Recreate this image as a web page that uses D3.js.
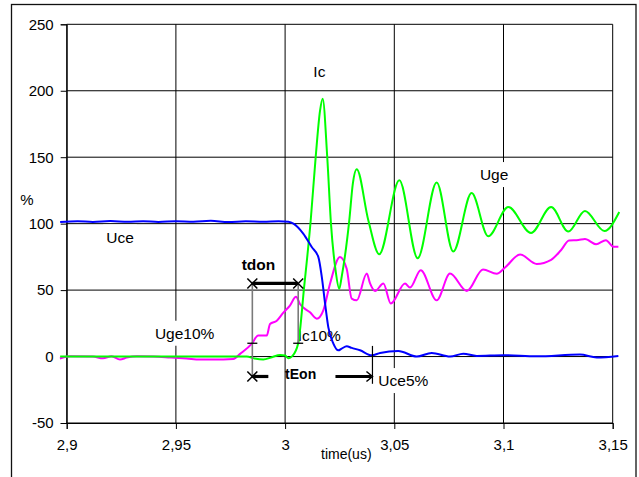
<!DOCTYPE html>
<html lang="en">
<head>
    <meta charset="UTF-8">
    <script src="https://d3js.org/d3.v7.min.js"></script>
    <title>turn-on</title>
    <style>
        body { margin: 0; background: #fff; }
        text { font-family: "Liberation Sans", Arial, sans-serif; }
    </style>
</head>
<body>
    <script>
        // axis ticks
        const xTicks = [2.9, 2.95, 3.0, 3.05, 3.1, 3.15];
        const yTicks = [-50, 0, 50, 100, 150, 200, 250];

        // Ic (green), time in us, value in %
        const icTime = [2.897, 2.940, 2.9824, 2.986, 2.990, 2.994, 2.9977, 3.0000, 3.0015, 3.0034,
            3.0060, 3.0087, 3.0117, 3.0140, 3.0160, 3.0172, 3.0193, 3.0210, 3.0231, 3.0248,
            3.0259, 3.0294, 3.0310, 3.0328, 3.0381, 3.0431, 3.0523, 3.0607, 3.0694, 3.0770,
            3.0854, 3.0930, 3.1022, 3.1126, 3.1218, 3.1297, 3.1373, 3.1462, 3.1530];
        const icVal = [0, 0, 0, -1.5, -2.3, -0.5, 1.2, 0.8, -1.2, 0.5,
            10, 52, 102, 150, 185, 194, 150, 100, 65, 51,
            60, 102.6, 130, 141, 102.6, 77, 132.6, 74, 131, 79,
            123, 90.5, 112.5, 93, 112.5, 94, 109.5, 94.5, 108.7];

        // Uce (blue)
        const uceTime = [2.897, 2.905, 2.912, 2.920, 2.928, 2.935, 2.942, 2.950, 2.958, 2.966,
            2.974, 2.982, 2.990, 2.997, 3.0015, 3.0038, 3.0083, 3.0122, 3.0152, 3.0168,
            3.0183, 3.0198, 3.0221, 3.0244, 3.0259, 3.0282, 3.0305, 3.0343, 3.0397, 3.0435,
            3.0518, 3.0603, 3.0671, 3.0755, 3.0816, 3.0877, 3.0999, 3.1152, 3.1350, 3.1427, 3.1526];
        const uceVal = [101.2, 101.8, 101.3, 102.0, 101.4, 101.9, 101.3, 101.9, 101.5, 102.1,
            101.2, 101.8, 101.5, 101.9, 101.4, 100, 92.5, 82.4, 75, 60,
            40, 22, 9.8, 4.7, 6, 7.7, 6.5, 4.7, 1, 2.7,
            4.2, 0, 2.7, 0, 2.2, 0.5, 1, 0.2, 1.5, -0.7, 0.5];

        // Uge (magenta)
        const ugeTime = [2.8969, 2.9015, 2.9120, 2.9166, 2.9206, 2.9244, 2.9275, 2.9321, 2.9397, 2.9473,
            2.9549, 2.9610, 2.9671, 2.9763, 2.9794, 2.9847, 2.9877, 2.9916, 2.9931, 2.9962,
            2.9992, 3.0022, 3.0050, 3.0068, 3.0114, 3.0145, 3.0175, 3.0206, 3.0251, 3.0282,
            3.0305, 3.0328, 3.0374, 3.0389, 3.0412, 3.0450, 3.0484, 3.0549, 3.0572, 3.0621,
            3.0694, 3.0755, 3.0832, 3.0906, 3.0969, 3.1007, 3.1076, 3.1152, 3.1218, 3.1263,
            3.1300, 3.1343, 3.1373, 3.1424, 3.1469, 3.1503, 3.1526];
        const ugeVal = [-1.5, 0.2, 0, -1.3, 0.2, -2.3, -0.8, 0.2, 0, -0.7,
            -1.5, -2.3, -2.3, -1.8, 2, 9.5, 15.8, 15.8, 24.5, 27,
            33, 38.4, 45, 39.6, 33.3, 28.5, 34.8, 55, 75, 66,
            43.6, 42.3, 62.4, 55, 49.3, 55, 39.9, 55, 51.9, 65,
            42.3, 62.4, 49.3, 65.5, 62.3, 67, 76.7, 69.7, 72.8, 80,
            87.3, 87.7, 88.5, 84.5, 87.6, 82.7, 82.7];

        // switching-time markers
        const tdonStart = 2.985, tdonEnd = 3.006, tEonEnd = 3.04;
        const tdonLevel = 55, pctLevel = 10, tEonLevel = -15;

        // curve labels
        const labelText = ["Ic", "Uge", "Uce", "Uge10%", "Ic10%", "Uce5%"];
        const labelT = [3.0157, 3.0957, 2.9244, 2.9404, 3.0058, 3.0427];
        const labelV = [210.6, 132.8, 85.8, 13.4, 11.7, -22.2];
        const labelAnchor = ["middle", "middle", "middle", "start", "start", "start"];

        const width = 639, height = 477;
        const svg = d3.select("body").append("svg")
            .attr("width", width).attr("height", height);

        const x = d3.scaleLinear().domain([2.9, 3.15]).range([66.7, 612.7]);
        const y = d3.scaleLinear().domain([-50, 250]).range([423, 24.3]);

        // outer frame
        svg.append("rect")
            .attr("x", 11.5).attr("y", 4.5).attr("width", 624.5).attr("height", 480)
            .attr("fill", "none").attr("stroke", "#111").attr("stroke-width", 1.3);

        // grid
        svg.append("g").selectAll("line").data(yTicks).join("line")
            .attr("x1", x(2.9)).attr("x2", x(3.15))
            .attr("y1", d => y(d)).attr("y2", d => y(d))
            .attr("stroke", "#000").attr("stroke-width", 1);
        svg.append("g").selectAll("line").data(xTicks).join("line")
            .attr("x1", d => x(d)).attr("x2", d => x(d))
            .attr("y1", y(250)).attr("y2", y(-50))
            .attr("stroke", "#000").attr("stroke-width", 1);

        // axes
        const yAxis = svg.append("g")
            .attr("transform", `translate(${x(2.9)},0)`)
            .call(d3.axisLeft(y).tickValues(yTicks).tickSize(6).tickPadding(7).tickFormat(d => String(d)));
        const xAxis = svg.append("g")
            .attr("transform", `translate(0,${y(-50)})`)
            .call(d3.axisBottom(x).tickValues(xTicks).tickSize(6).tickPadding(10)
                .tickFormat(d => String(+d.toFixed(2)).replace(".", ",")));
        [yAxis, xAxis].forEach(a => {
            a.select(".domain").attr("stroke", "#000");
            a.selectAll(".tick line").attr("stroke", "#000");
            a.selectAll("text").attr("font-size", 15).attr("fill", "#000")
                .style("font-family", "'Liberation Sans', Arial, sans-serif");
        });

        svg.append("text").attr("x", 27).attr("y", 205).attr("text-anchor", "middle")
            .attr("font-size", 15).text("%");
        svg.append("text").attr("x", 321).attr("y", 458.5)
            .attr("font-size", 14).text("time(us)");

        // label backgrounds + labels
        const lab = svg.append("g");
        labelText.forEach((t, i) => {
            const g = lab.append("g");
            const tx = g.append("text")
                .attr("x", x(labelT[i])).attr("y", y(labelV[i]))
                .attr("text-anchor", labelAnchor[i])
                .attr("font-size", 15.5).text(t);
            const b = tx.node().getBBox();
            if (t !== "Ic10%") {
                g.insert("rect", "text")
                    .attr("x", b.x - 3).attr("y", b.y - 4)
                    .attr("width", b.width + 6).attr("height", b.height + 8)
                    .attr("fill", "#fff");
            }
        });

        // curves
        const line = d3.line()
            .x(d => x(d[0])).y(d => y(d[1]))
            .curve(d3.curveMonotoneX);
        const series = [
            [ugeTime, ugeVal, "#ff00ff"],
            [icTime, icVal, "#00ff00"],
            [uceTime, uceVal, "#0000ff"]
        ];
        series.forEach(([ts, vs, c]) => {
            svg.append("path")
                .datum(ts.map((t, i) => [t, vs[i]]))
                .attr("d", line)
                .attr("fill", "none")
                .attr("stroke", c)
                .attr("stroke-width", 2)
                .attr("stroke-linejoin", "round");
        });

        // markers
        const m = svg.append("g").attr("stroke", "#000").attr("fill", "none");
        // gray verticals
        m.append("line")
            .attr("x1", x(tdonStart)).attr("x2", x(tdonStart))
            .attr("y1", y(tdonLevel)).attr("y2", y(tEonLevel))
            .attr("stroke", "#7a7a7a").attr("stroke-width", 1.6);
        m.append("line")
            .attr("x1", x(tdonEnd)).attr("x2", x(tdonEnd))
            .attr("y1", y(tdonLevel)).attr("y2", y(pctLevel))
            .attr("stroke", "#7a7a7a").attr("stroke-width", 1.6);
        // 10% ticks
        [tdonStart, tdonEnd].forEach(t => {
            m.append("line")
                .attr("x1", x(t) - 5).attr("x2", x(t) + 5)
                .attr("y1", y(pctLevel)).attr("y2", y(pctLevel))
                .attr("stroke-width", 1.3);
        });
        // tdon bar
        m.append("line")
            .attr("x1", x(tdonStart)).attr("x2", x(tdonEnd))
            .attr("y1", y(tdonLevel)).attr("y2", y(tdonLevel))
            .attr("stroke-width", 3.2);
        // X markers
        const cross = (cx, cy) => {
            m.append("path")
                .attr("d", `M${cx - 5},${cy - 5}L${cx + 5},${cy + 5}M${cx - 5},${cy + 5}L${cx + 5},${cy - 5}`)
                .attr("stroke-width", 1.5);
        };
        cross(x(tdonStart), y(tdonLevel));
        cross(x(tdonEnd), y(tdonLevel));
        cross(x(tdonStart), y(tEonLevel));
        // tEon bars
        m.append("line")
            .attr("x1", x(tdonStart)).attr("x2", x(tdonStart) + 16)
            .attr("y1", y(tEonLevel)).attr("y2", y(tEonLevel))
            .attr("stroke-width", 3.2);
        m.append("line")
            .attr("x1", x(tEonEnd) - 37).attr("x2", x(tEonEnd) - 1)
            .attr("y1", y(tEonLevel)).attr("y2", y(tEonLevel))
            .attr("stroke-width", 3.2);
        m.append("path")
            .attr("d", `M${x(tEonEnd) - 6},${y(tEonLevel) - 5}L${x(tEonEnd)},${y(tEonLevel)}L${x(tEonEnd) - 6},${y(tEonLevel) + 5}`)
            .attr("stroke-width", 1.5);
        m.append("line")
            .attr("x1", x(tEonEnd)).attr("x2", x(tEonEnd))
            .attr("y1", y(8)).attr("y2", y(-20.5))
            .attr("stroke-width", 1.2);

        svg.append("text").attr("x", x(2.9801)).attr("y", y(64.9))
            .attr("font-size", 15.5).attr("font-weight", "bold").text("tdon");
        svg.append("text").attr("x", x(3.0)).attr("y", y(-16.7))
            .attr("font-size", 14).attr("font-weight", "bold").text("tEon");
    </script>
</body>
</html>
